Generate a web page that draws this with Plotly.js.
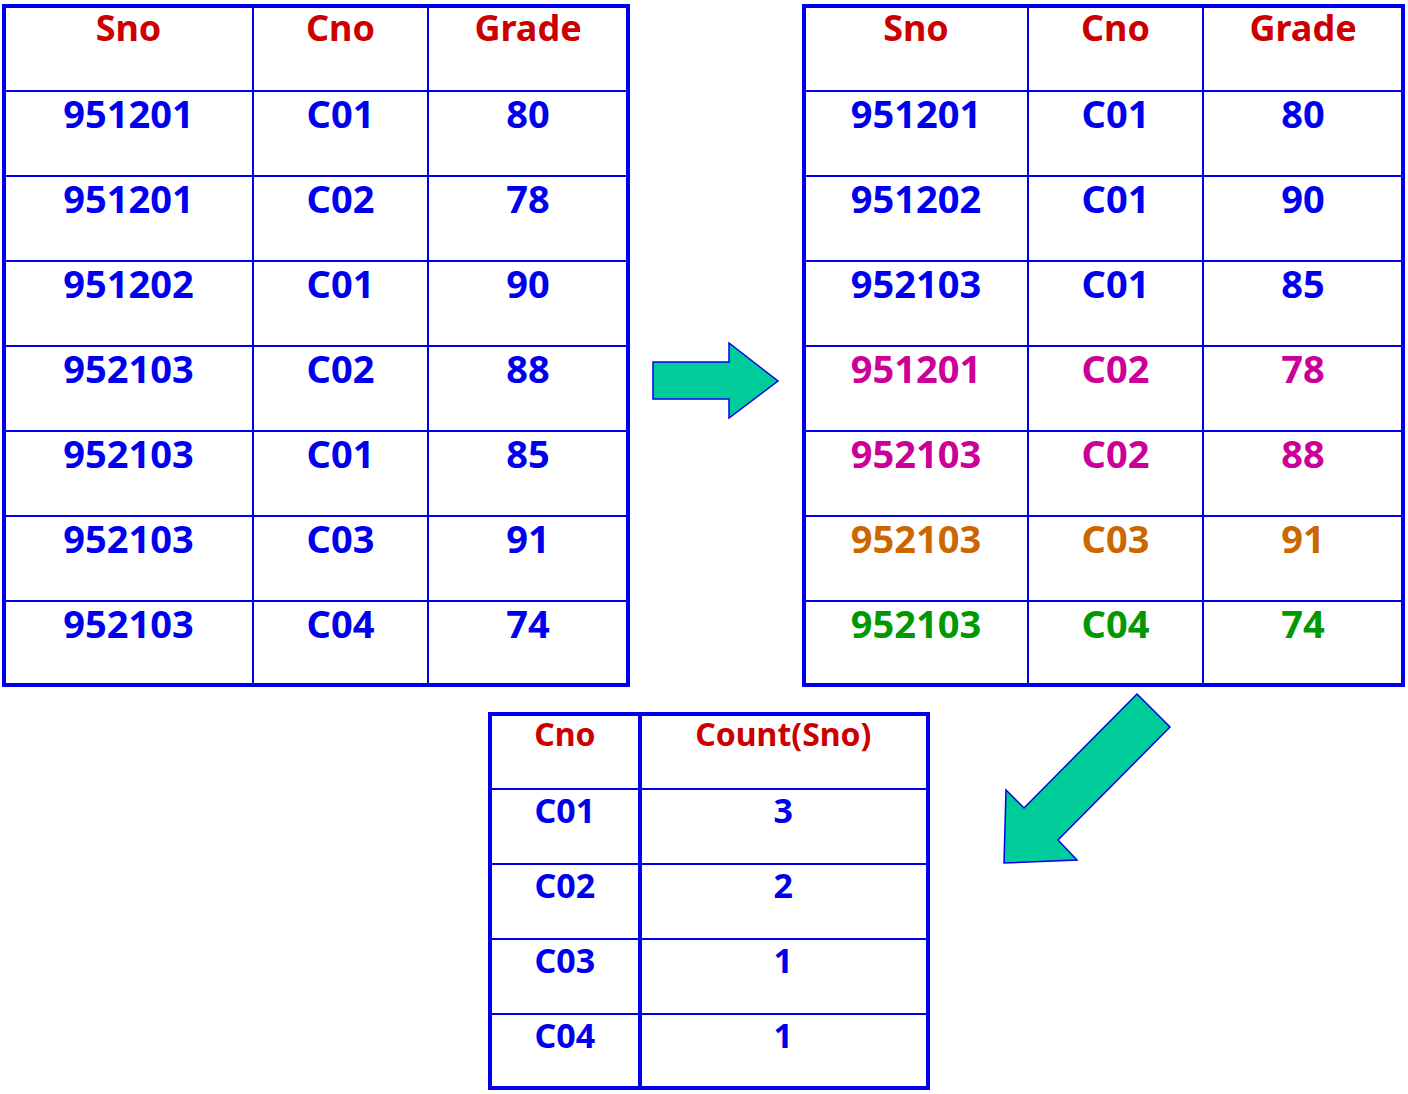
<!DOCTYPE html><html><head><script src="https://cdn.plot.ly/plotly-3.0.1.min.js"></script>
<style>body{margin:0}</style></head><body><div id="g" style="width:1408px;height:1094px"></div><script>
const headers=["Sno","Cno","Grade"];
const leftSno=["951201","951201","951202","952103","952103","952103","952103"];
const leftCno=["C01","C02","C01","C02","C01","C03","C04"];
const leftGrade=["80","78","90","88","85","91","74"];
const rightSno=["951201","951202","952103","951201","952103","952103","952103"];
const rightCno=["C01","C01","C01","C02","C02","C03","C04"];
const rightGrade=["80","90","85","78","88","91","74"];
const rightColors=["#0000EE","#0000EE","#0000EE","#CC0099","#CC0099","#CC6600","#009900"];
const countHeaders=["Cno","Count(Sno)"];
const countCno=["C01","C02","C03","C04"];
const countVal=["3","2","1","1"];
const W=1408,H=1094,BLUE="#0000EE",RED="#CC0000";
const fam="Noto Sans, sans-serif";
function dom(x0,x1,y0,y1){return {x:[x0/W,x1/W],y:[1-y1/H,1-y0/H]};}
function tbl(d,hdr,cols,widths,h,fs,colors){
 return {type:'table',domain:d,columnwidth:widths,
  header:{values:hdr,height:h,align:'center',line:{color:BLUE,width:2},fill:{color:'white'},
   font:{family:fam,size:fs,color:RED,weight:'bold'}},
  cells:{values:cols,height:h,align:'center',line:{color:BLUE,width:2},fill:{color:'white'},
   font:{family:fam,size:fs+2,weight:'bold',color:cols.map(()=>colors)}}};
}
const blues=leftSno.map(()=>BLUE);
const data=[
 tbl(dom(4,628,6,686),headers,[leftSno,leftCno,leftGrade],[249,175,200],85,36,blues),
 tbl(dom(804,1403,6,686),headers,[rightSno,rightCno,rightGrade],[224,175,200],85,36,rightColors),
 tbl(dom(490,928,714,1089),countHeaders,[countCno,countVal],[150,288],75,32,countCno.map(()=>BLUE))
];
function rect(x0,y0,x1,y1){return {type:'rect',xref:'x',yref:'y',x0,y0,x1,y1,line:{color:BLUE,width:4}};}
const shapes=[rect(4,6,628,685),rect(804,6,1403,685),rect(490,714,928,1088),
 {type:'line',x0:253,x1:253,y0:6,y1:685,line:{color:BLUE,width:2}},
 {type:'path',path:'M653,362 L729,362 L729,343 L778,381 L729,418 L729,399 L653,399 Z',fillcolor:'#00CC99',line:{color:BLUE,width:1.5}},
 {type:'path',path:'M1137,694 L1170,727 L1058,840 L1077,860 L1004,863 L1006,790 L1024,808 Z',fillcolor:'#00CC99',line:{color:BLUE,width:1.5}},
 {type:'line',x0:640,x1:640,y0:714,y1:1088,line:{color:BLUE,width:4}}
];
Plotly.newPlot('g',data,{width:W,height:H,margin:{l:0,r:0,t:0,b:0},paper_bgcolor:'white',plot_bgcolor:'rgba(0,0,0,0)',
 xaxis:{range:[0,W],visible:false,fixedrange:true},yaxis:{range:[H,0],visible:false,fixedrange:true},shapes,showlegend:false},{displayModeBar:false,staticPlot:true});
</script></body></html>
